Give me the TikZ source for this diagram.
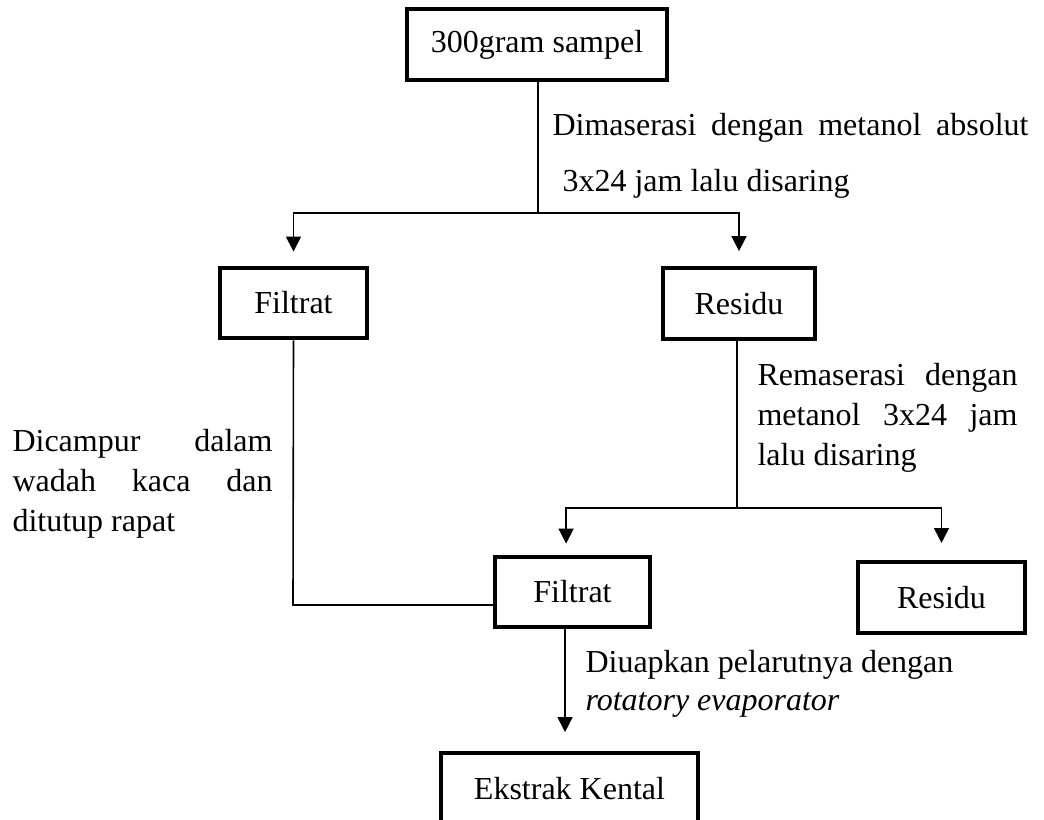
\documentclass[tikz,border=0pt]{standalone}
\usepackage{fontspec}
\setmainfont{Liberation Serif}
\usepackage{tikz}
\usetikzlibrary{arrows.meta,positioning,calc}

\begin{document}
\begin{tikzpicture}[x=0.375pt, y=-0.375pt, font=\fontsize{12}{15}\selectfont,
  >={Triangle[width=5.6pt,length=5.6pt]},
  box/.style={draw,line width=1.5pt,minimum height=26.6pt,inner sep=0pt},
  link/.style={line width=0.6pt},
  note/.style={align=left,inner sep=0pt,anchor=base west}]
\useasboundingbox (0,0) rectangle (1044,820);
\clip (0,0) rectangle (1044,820);
% --- boxes ---
\node[box,minimum width=97.5pt] (sampel) at (537,44.5) {300gram sampel};
\node[box,minimum width=55pt] (filtrat1) at (293.5,303) {Filtrat};
\node[box,minimum width=57pt] (residu1) at (739,303.5) {Residu};
\node[box,minimum width=58pt] (filtrat2) at (572.5,592) {Filtrat};
\node[box,minimum width=62.6pt] (residu2) at (941.5,597.5) {Residu};
\node[box,minimum width=96.4pt] (ekstrak) at (569.5,788.5) {Ekstrak Kental};
% --- branch points ---
\coordinate (split1) at (538,213);
\coordinate (split2) at (737,508);
\coordinate (join) at (293,605);
% --- connectors ---
\draw[link] (sampel.south -| split1) -- (split1);
\draw[link,->,shorten >=5.25pt] (split1) -| (filtrat1.north);
\draw[link,->,shorten >=5.6pt] (split1) -| (residu1.north);
\draw[link] (residu1.south -| split2) -- (split2);
\draw[link,->,shorten >=4.1pt] (split2) -| ([xshift=-2.4pt]filtrat2.north);
\draw[link,->,shorten >=6.4pt] (split2) -| (residu2.north);
\draw[link] (filtrat1.south) -- (join) -- (join -| filtrat2.west);
\draw[link,->,shorten >=7.1pt] ([xshift=-2.8pt]filtrat2.south) coordinate (f2out)
  -- (f2out |- ekstrak.north);
% --- labels ---
\node[note] (maserasi) at (552,192)
  {\makebox[178.5pt][s]{Dimaserasi dengan metanol absolut}\\[6pt]
   \hspace*{3.75pt}3x24 jam lalu disaring};
\node[note] (remaserasi) at (757,465)
  {\makebox[97.5pt][s]{Remaserasi dengan}\\
   \makebox[97.5pt][s]{metanol 3x24 jam}\\
   lalu disaring};
\node[note] (campur) at (12,531)
  {\makebox[97.5pt][s]{Dicampur dalam}\\
   \makebox[97.5pt][s]{wadah kaca dan}\\
   ditutup rapat};
\node[note] (uapkan) at (585,710)
  {Diuapkan pelarutnya dengan\\[-0.75pt]
   \textit{rotatory evaporator}};
\end{tikzpicture}
\end{document}
